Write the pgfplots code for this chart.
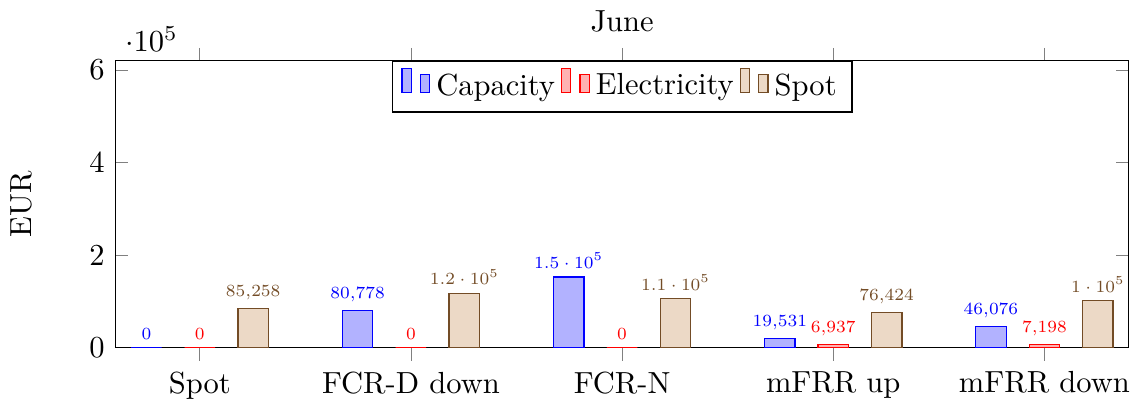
\documentclass[border=0pt]{standalone}
\usepackage{pgfplots}
\pgfplotsset{compat=1.18}
\begin{document}
\begin{tikzpicture}
\begin{axis}[
  set layers=standard,
  scale only axis,
  width=332pt, height=94pt,
  ybar=7.5pt, bar width=10pt,
  xmin=-0.4, xmax=4.4,
  ymin=0, ymax=620000,
  clip=false,
  xtick={0,1,2,3,4},
  xticklabels={Spot,FCR-D down,FCR-N,mFRR up,mFRR down},
  ytick={0,200000,400000,600000},
  title={June},
  ylabel={EUR},
  ylabel shift=12pt,
  nodes near coords,
  every node near coord/.append style={font=\scriptsize,scale=0.8,/pgf/number format/precision=1},
  legend style={at={(0.5,1)},anchor=north,legend columns=-1},
]
\addplot coordinates {(0,0) (1,80778) (2,153000) (3,19531) (4,46076)};
\addplot coordinates {(0,0) (1,0) (2,0) (3,6937) (4,7198)};
\addplot coordinates {(0,85258) (1,117000) (2,106000) (3,76424) (4,101500)};
\legend{Capacity,Electricity,Spot}
\end{axis}
\end{tikzpicture}
\end{document}
